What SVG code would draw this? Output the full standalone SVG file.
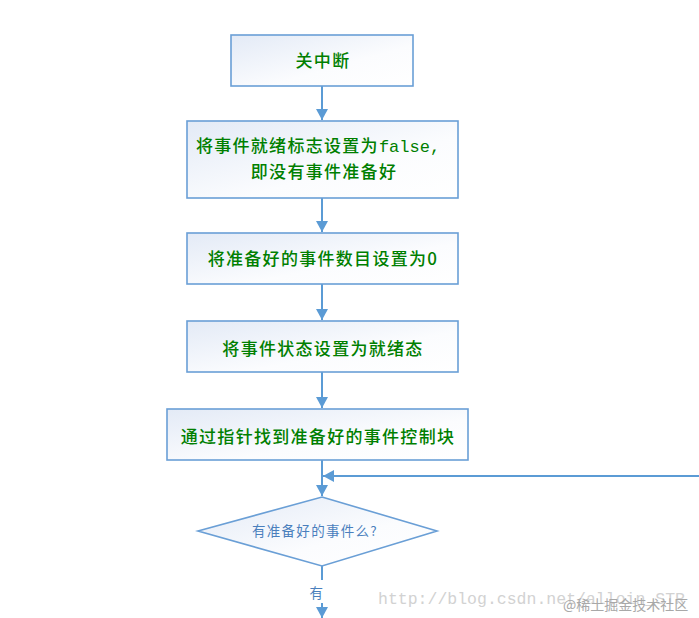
<svg xmlns="http://www.w3.org/2000/svg" width="699" height="618" viewBox="0 0 699 618">
<defs>
<linearGradient id="g" x1="0" y1="0" x2="1" y2="1">
<stop offset="0" stop-color="#e3eaf6"/>
<stop offset="0.6" stop-color="#fbfcfe"/>
<stop offset="1" stop-color="#ffffff"/>
</linearGradient>
<marker id="ah" markerWidth="12" markerHeight="12" refX="11" refY="6" orient="auto" markerUnits="userSpaceOnUse">
<path d="M0,0 L11,6 L0,12 Z" fill="#5b9bd5"/>
</marker>
<style>
.box{fill:url(#g);stroke:#6a9fd6;stroke-width:1.6}
.t{font-family:"Noto Sans CJK SC","Liberation Sans",sans-serif;font-size:17px;font-weight:500;fill:#007f00;letter-spacing:1.3px;text-anchor:middle}
.m{font-family:"Liberation Mono","Noto Sans CJK SC",monospace;font-weight:normal;letter-spacing:0}
.b{font-family:"Noto Sans CJK SC","Liberation Sans",sans-serif;font-size:13.5px;fill:#4a7fbd;text-anchor:middle;letter-spacing:1.3px}
.c{fill:none;stroke:#5b9bd5;stroke-width:2}
</style>
</defs>
<rect width="699" height="618" fill="#ffffff"/>
<g id="connectors">
<line class="c" x1="322" y1="86" x2="322" y2="120" marker-end="url(#ah)"/>
<line class="c" x1="322" y1="198" x2="322" y2="232" marker-end="url(#ah)"/>
<line class="c" x1="322" y1="284" x2="322" y2="320" marker-end="url(#ah)"/>
<line class="c" x1="322" y1="372" x2="322" y2="408" marker-end="url(#ah)"/>
<line class="c" x1="322" y1="460" x2="322" y2="496" marker-end="url(#ah)"/>
<line class="c" x1="699" y1="476" x2="323" y2="476" marker-end="url(#ah)"/>
<line class="c" x1="322" y1="566" x2="322" y2="580"/>
<line class="c" x1="322" y1="603" x2="322" y2="618" marker-end="url(#ah)"/>
<text class="b" x="317" y="598">有</text>
</g>
<g id="n1">
<rect class="box" x="231" y="35" width="182" height="51"/>
<text class="t" x="323" y="67">关中断</text>
</g>
<g id="n2">
<rect class="box" x="187" y="121" width="271" height="77"/>
<text class="t" x="318" y="152">将事件就绪标志设置为<tspan class="m">false,</tspan></text>
<text class="t" x="324" y="178">即没有事件准备好</text>
</g>
<g id="n3">
<rect class="box" x="187" y="233" width="271" height="51"/>
<text class="t" x="323" y="265">将准备好的事件数目设置为0</text>
</g>
<g id="n4">
<rect class="box" x="187" y="321" width="271" height="51"/>
<text class="t" x="323" y="355">将事件状态设置为就绪态</text>
</g>
<g id="n5">
<rect class="box" x="167" y="409" width="301" height="51"/>
<text class="t" x="318" y="443">通过指针找到准备好的事件控制块</text>
</g>
<g id="n6">
<polygon class="box" points="322,497 437,531 322,566 198,531"/>
<text class="b" x="315" y="536">有准备好的事件么?</text>
</g>
<g id="watermark">
<text x="378" y="604" font-family="Liberation Mono, monospace" font-size="16.5" fill="#d2d2d2">http://blog.csdn.net/alloin_STR</text>
<text x="563" y="610" font-family="Noto Sans CJK SC, sans-serif" font-size="14" fill="#a8a8a8">@稀土掘金技术社区</text>
</g>
</svg>
